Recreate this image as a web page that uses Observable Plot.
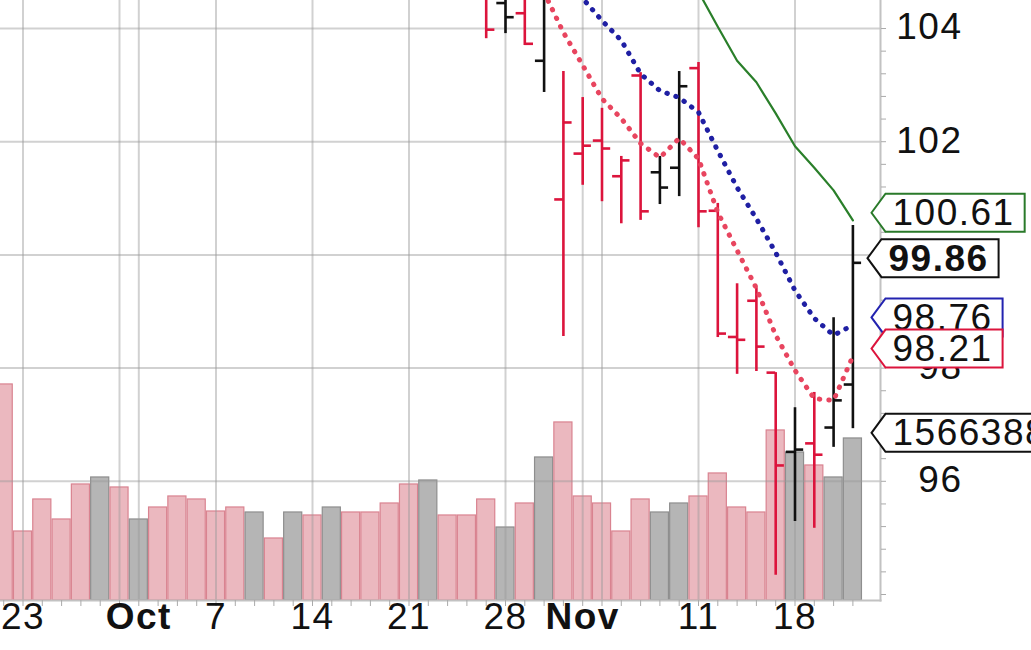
<!DOCTYPE html>
<html>
<head>
<meta charset="utf-8">
<script src="https://cdn.jsdelivr.net/npm/d3@7"></script>
<script src="https://cdn.jsdelivr.net/npm/@observablehq/plot@0.6"></script>
<style>
  html, body { margin: 0; padding: 0; background: #fff; }
  #chart { position: relative; width: 1031px; height: 650px; overflow: hidden; }
  #chart svg { position: absolute; left: 0; top: 0; overflow: visible; }
  #chart text { letter-spacing: 1.5px; }
</style>
</head>
<body>
<div id="chart"></div>
<script>
// ---------------- data ----------------
const dates = ["2013-09-20","2013-09-23","2013-09-24","2013-09-25","2013-09-26","2013-09-27","2013-09-30",
  "2013-10-01","2013-10-02","2013-10-03","2013-10-04","2013-10-07","2013-10-08","2013-10-09","2013-10-10","2013-10-11",
  "2013-10-14","2013-10-15","2013-10-16","2013-10-17","2013-10-18","2013-10-21","2013-10-22","2013-10-23","2013-10-24",
  "2013-10-25","2013-10-28","2013-10-29","2013-10-30","2013-10-31","2013-11-01","2013-11-04","2013-11-05","2013-11-06",
  "2013-11-07","2013-11-08","2013-11-11","2013-11-12","2013-11-13","2013-11-14","2013-11-15","2013-11-18","2013-11-19",
  "2013-11-20","2013-11-21"];

const volumes = [2088500, 667200, 976600, 783200, 1121600, 1189300, 1092600, 783200, 899200, 1005600,
  976600, 860500, 899200, 850900, 599500, 850900, 821900, 899200, 850900, 850900,
  937900, 1121600, 1160300, 821900, 821900, 976600, 705800, 937900, 1382700, 1721100,
  1005600, 937900, 667200, 976600, 850900, 937900, 1005600, 1228000, 899200, 850900,
  1643700, 1431000, 1305300, 1189300, 1566388];

// 1 = close above previous close (black bar / grey volume), 0 = below (red bar / pink volume)
const upDay = [0,0,0,0,0,1,0,1,0,0,0,0,0,1,0,1,0,1,0,0,0,0,1,0,0,0,1,0,1,0,0,0,0,0,1,1,0,0,0,0,0,1,0,1,1];

// OHLC bars visible in the window (from 2013-10-25)
const barFirstDate = "2013-10-25";
const barOpen  = [104.60,104.45,104.27,103.43,100.98,101.79,102.02,101.39,103.17,101.46,101.54,103.30,100.78, 98.55, 99.19, 97.92, 96.52, 96.67, 96.95, 97.71];
const barHigh  = [104.80,104.70,104.70,104.80,103.24,102.78,102.59,101.74,103.22,101.74,103.24,103.40,100.91, 99.49, 99.42, 97.92, 97.30, 97.57, 98.89,100.52];
const barLow   = [103.82,103.91,103.70,102.87, 98.56,101.23,100.94,100.55,100.61,100.89,101.03,100.48, 98.54, 97.89, 97.94, 94.34, 95.29, 95.17, 96.60, 96.93];
const barClose = [103.98,104.20,103.73,104.55,102.34,101.93,101.88,101.67,100.77,101.19,102.98,100.77, 98.61, 98.50, 98.38, 96.28, 96.56, 96.47, 97.43, 99.86];

// moving averages (visible part)
const maRedFirstDate = "2013-10-30";
const maRed  = [104.64,103.93,103.35,102.76,102.41,101.97,101.72,102.06,101.70,100.75,100.08,99.41,98.58,97.96,97.46,97.43,98.21];
const maBlueFirstDate = "2013-10-31";
const maBlue = [105.00,104.53,104.14,103.79,103.20,102.90,102.78,102.52,101.84,101.19,100.64,100.04,99.37,98.88,98.58,98.76];
const maGreenFirstDate = "2013-11-08";
const maGreen = [105.47,104.65,104.03,103.43,103.05,102.50,101.92,101.54,101.14,100.61];

// axis ticks / labels
const priceTicks = [96, 98, 100, 102, 104];
const dayLabelDates = ["2013-09-23","2013-10-07","2013-10-14","2013-10-21","2013-10-28","2013-11-11","2013-11-18"];
const dayLabels = ["23","7","14","21","28","11","18"];
const monthLabelDates = ["2013-10-01","2013-11-01"];
const monthLabels = ["Oct","Nov"];
const gridDates = ["2013-09-23","2013-09-30","2013-10-01","2013-10-07","2013-10-14","2013-10-21","2013-10-28",
  "2013-11-01","2013-11-04","2013-11-11","2013-11-18"];

// value tags on the right
const maTagValues = [100.61, 98.76, 98.21];
const maTagColors = ["#2a7a2a", "#2323b0", "#dc143c"];
const closeTagValue = 99.86;
const closeTagColor = "#111";
const volTagColor = "#111";

// ---------------- build ----------------
const font = "'Liberation Sans', Arial, Helvetica, sans-serif";
const kOf = d => dates.indexOf(d);
const layout = {width: 1031, height: 650, marginLeft: 0, marginRight: 151, marginTop: 0, marginBottom: 50};
const xOpt = {domain: [-0.166, 45.43], axis: null};
const volY = {domain: [0, 5800000], axis: null};
const priceY = {domain: [93.894, 104.495], axis: null};
const red = "#dc143c", black = "#111";
const gridStroke = {stroke: "#9a9a9a", strokeOpacity: 0.45, strokeWidth: 2};

const volRows = dates.map((date, k) => ({k, v: volumes[k], up: upDay[k]}));
const rowsFrom = (first, vals) => vals.map((v, i) => ({k: kOf(first) + i, v}));
const b0 = kOf(barFirstDate);
const bars = barOpen.map((o, i) => ({k: b0 + i, o, h: barHigh[i], l: barLow[i], c: barClose[i], up: upDay[b0 + i]}));
const barColor = d => d.up ? black : red;

// layer 1: volume bars
const volPlot = Plot.plot({
  ...layout, x: xOpt, y: volY,
  style: {background: "#fff", fontFamily: font},
  marks: [
    Plot.rect(volRows, {
      x1: d => d.k - 0.5, x2: d => d.k + 0.5, y1: 0, y2: "v", insetLeft: 0.6, insetRight: 0.6,
      fill: d => d.up ? "#b5b5b5" : "#ebb8bf",
      stroke: d => d.up ? "#8e8e8e" : "#d98390", strokeWidth: 1.2
    })
  ]
});

// layer 2: price
const pricePlot = Plot.plot({
  ...layout, x: xOpt, y: priceY,
  style: {background: "transparent", fontFamily: font},
  marks: [
    Plot.ruleY(priceTicks, gridStroke),
    Plot.ruleX(gridDates.map(kOf), gridStroke),
    Plot.frame({anchor: "right", stroke: "#c2c2c2", strokeWidth: 2}),
    Plot.frame({anchor: "bottom", stroke: "#c2c2c2", strokeWidth: 2}),
    Plot.axisX({ticks: dates.map((d, k) => k), tickSize: 6, tickFormat: () => "", label: null, stroke: "#aaa"}),
    Plot.axisY({anchor: "right", ticks: d3.range(94, 104.2, 0.4), tickSize: 5, tickFormat: () => "", label: null, stroke: "#aaa"}),
    Plot.text(dayLabelDates, {x: d => kOf(d), frameAnchor: "bottom", dy: 28, text: (d, i) => dayLabels[i],
      fontSize: 37, fill: black}),
    Plot.text(monthLabelDates, {x: d => kOf(d), frameAnchor: "bottom", dy: 28, text: (d, i) => monthLabels[i],
      fontSize: 37, fontWeight: "bold", fill: black}),
    Plot.text(priceTicks, {y: d => d, frameAnchor: "right", dx: 82, dy: -1, textAnchor: "end",
      text: d => String(d), fontSize: 37, fill: black}),
    // OHLC bars
    Plot.ruleX(bars, {x: "k", y1: "l", y2: "h", stroke: barColor, strokeWidth: 2.6, clip: true}),
    Plot.ruleY(bars, {y: "o", x1: d => d.k - 0.45, x2: "k", stroke: barColor, strokeWidth: 2.6, clip: true}),
    Plot.ruleY(bars, {y: "c", x1: "k", x2: d => d.k + 0.45, stroke: barColor, strokeWidth: 2.6, clip: true}),
    // moving averages
    Plot.line(rowsFrom(maGreenFirstDate, maGreen), {x: "k", y: "v", stroke: "#2a7f2a", strokeWidth: 2.2, clip: true}),
    Plot.line(rowsFrom(maBlueFirstDate, maBlue), {x: "k", y: "v", stroke: "#1f1fa3", strokeWidth: 5,
      strokeDasharray: "0.5,9", strokeLinecap: "round", clip: true}),
    Plot.line(rowsFrom(maRedFirstDate, maRed), {x: "k", y: "v", stroke: "#e8455f", strokeWidth: 5,
      strokeDasharray: "0.5,9", strokeLinecap: "round", clip: true}),
    // tags
    Plot.text(maTagValues, {y: d => d, frameAnchor: "right", dx: 12, dy: -7, textAnchor: "start",
      text: d => d.toFixed(2), fontSize: 37, fill: black}),
    Plot.text([closeTagValue], {y: d => d, frameAnchor: "right", dx: 8, dy: -4, textAnchor: "start",
      text: d => d.toFixed(2), fontSize: 37, fontWeight: "bold", fill: black})
  ]
});

// layer 3: volume tag
const volTagPlot = Plot.plot({
  ...layout, x: xOpt, y: volY,
  style: {background: "transparent", fontFamily: font},
  marks: [
    Plot.text([volumes[volumes.length - 1]], {y: d => d, frameAnchor: "right", dx: 12, dy: -5, textAnchor: "start",
      text: d => String(d), fontSize: 37, fill: black})
  ]
});

const chart = document.getElementById("chart");
chart.append(volPlot, pricePlot, volTagPlot);

// draw the pointed value boxes behind the tag texts
const tagSpecs = [
  ...maTagValues.map((v, i) => ({svg: pricePlot, text: v.toFixed(2), color: maTagColors[i]})),
  {svg: pricePlot, text: closeTagValue.toFixed(2), color: closeTagColor},
  {svg: volTagPlot, text: String(volumes[volumes.length - 1]), color: volTagColor}
];
for (const spec of tagSpecs) {
  const t = Array.from(spec.svg.querySelectorAll("text")).find(el => el.textContent.trim() === spec.text);
  if (!t) continue;
  const b = t.getBBox();
  const cy = b.y + b.height * 0.5;
  const left = b.x - 7, right = b.x + b.width + 10, top = cy - 19, bottom = cy + 19, tip = left - 14;
  const p = document.createElementNS("http://www.w3.org/2000/svg", "path");
  p.setAttribute("d", `M${tip},${cy}L${left},${top}H${right}V${bottom}H${left}Z`);
  p.setAttribute("fill", "#fff");
  p.setAttribute("stroke", spec.color);
  p.setAttribute("stroke-width", "2");
  const tr = t.getAttribute("transform");
  if (tr) p.setAttribute("transform", tr);
  t.parentNode.insertBefore(p, t);
}
</script>
</body>
</html>
